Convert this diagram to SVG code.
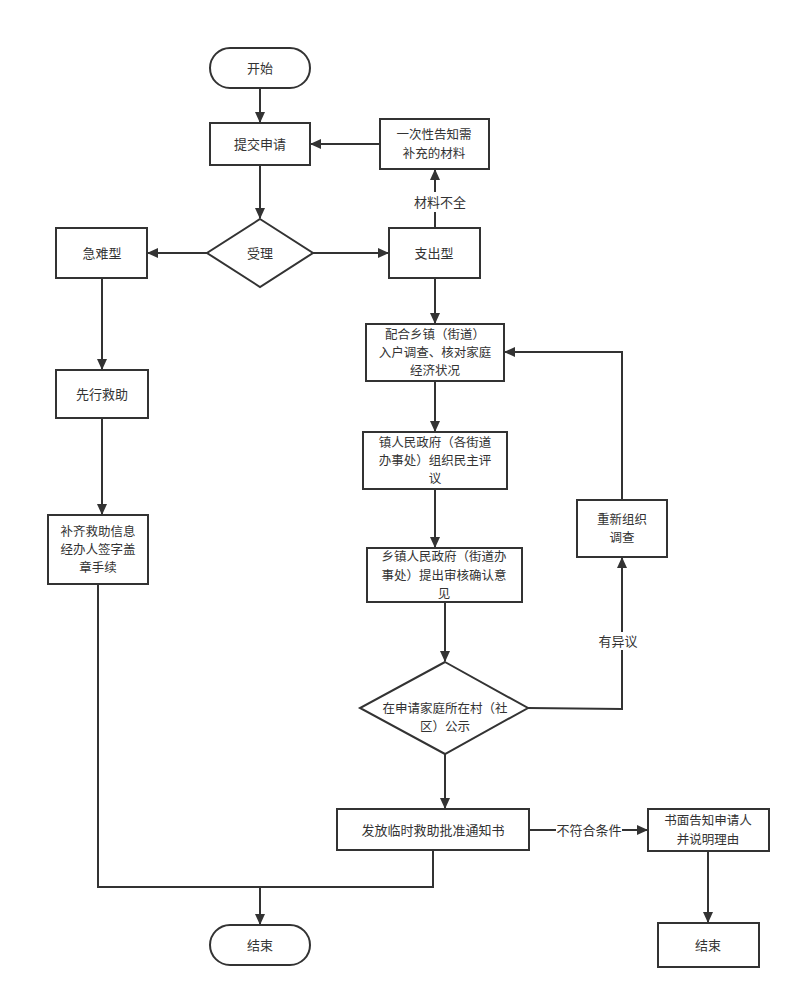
<svg xmlns="http://www.w3.org/2000/svg" width="801" height="998" viewBox="0 0 801 998">
<defs>
<marker id="arr" markerUnits="userSpaceOnUse" markerWidth="12" markerHeight="10" refX="10" refY="5" orient="auto">
<path d="M0,0 L11,5 L0,10 Z" fill="#333"/>
</marker>
<style>
.n{fill:#fff;stroke:#333;stroke-width:2}
.c{fill:none;stroke:#333;stroke-width:2}
text{font-family:"Noto Sans CJK SC","Liberation Sans",sans-serif;font-size:13px;fill:#333;text-anchor:middle}
text.m{font-size:12.5px}
.lb{fill:#fff}
</style>
</defs>
<rect width="801" height="998" fill="#fff"/>
<g id="connectors">
<path class="c" d="M260,88 V122" marker-end="url(#arr)"/>
<path class="c" d="M260,165 V218" marker-end="url(#arr)"/>
<path class="c" d="M380,144 H311" marker-end="url(#arr)"/>
<path class="c" d="M435,228 V170" marker-end="url(#arr)"/>
<path class="c" d="M207,253 H148" marker-end="url(#arr)"/>
<path class="c" d="M313,253 H388" marker-end="url(#arr)"/>
<path class="c" d="M102,278 V369" marker-end="url(#arr)"/>
<path class="c" d="M102,418 V514" marker-end="url(#arr)"/>
<path class="c" d="M435,278 V323" marker-end="url(#arr)"/>
<path class="c" d="M435,381 V431" marker-end="url(#arr)"/>
<path class="c" d="M435,489 V547" marker-end="url(#arr)"/>
<path class="c" d="M445,602 V661" marker-end="url(#arr)"/>
<path class="c" d="M528,708 L622,709 V558" marker-end="url(#arr)"/>
<path class="c" d="M622,500 V352 H505" marker-end="url(#arr)"/>
<path class="c" d="M445,754 V808" marker-end="url(#arr)"/>
<path class="c" d="M529,830 H647" marker-end="url(#arr)"/>
<path class="c" d="M708,851 V922" marker-end="url(#arr)"/>
<path class="c" d="M98,584 V887 H433 V850"/>
<path class="c" d="M260,887 V924" marker-end="url(#arr)"/>
<rect class="lb" x="410" y="192" width="50" height="20"/>
<text x="440" y="207">材料不全</text>
<rect class="lb" x="596" y="632" width="44" height="18"/>
<text x="618" y="646">有异议</text>
<rect class="lb" x="556" y="821" width="66" height="18"/>
<text x="589" y="835">不符合条件</text>
</g>
<g id="start"><rect class="n" x="210" y="48" width="100" height="40" rx="20"/><text x="260" y="73">开始</text></g>
<g id="submit"><rect class="n" x="210" y="123" width="100" height="42"/><text x="260" y="149">提交申请</text></g>
<g id="notify"><rect class="n" x="380" y="119" width="109" height="50"/><text class="m" x="434" y="139.4">一次性告知需<tspan x="434" dy="18.2">补充的材料</tspan></text></g>
<g id="accept"><polygon class="n" points="260,219 313,253 260,287 207,253"/><text x="260" y="258">受理</text></g>
<g id="urgent"><rect class="n" x="56" y="228" width="91" height="50"/><text x="102" y="258">急难型</text></g>
<g id="expense"><rect class="n" x="389" y="228" width="91" height="50"/><text x="434" y="258">支出型</text></g>
<g id="rescue"><rect class="n" x="56" y="370" width="92" height="48"/><text x="102" y="399">先行救助</text></g>
<g id="supplement"><rect class="n" x="48" y="515" width="100" height="69"/><text class="m" x="98" y="536">补齐救助信息<tspan x="98" dy="18.2">经办人签字盖</tspan><tspan x="98" dy="18.2">章手续</tspan></text></g>
<g id="survey"><rect class="n" x="366" y="324" width="138" height="57"/><text class="m" x="435" y="339">配合乡镇（街道）<tspan x="435" dy="18.2">入户调查、核对家庭</tspan><tspan x="435" dy="18.2">经济状况</tspan></text></g>
<g id="review"><rect class="n" x="363" y="432" width="144" height="57"/><text class="m" x="435" y="447">镇人民政府（各街道<tspan x="435" dy="18.2">办事处）组织民主评</tspan><tspan x="435" dy="18.2">议</tspan></text></g>
<g id="opinion"><rect class="n" x="367" y="548" width="155" height="54"/><text class="m" x="444" y="561.3">乡镇人民政府（街道办<tspan x="444" dy="18.2">事处）提出审核确认意</tspan><tspan x="444" dy="18.2">见</tspan></text></g>
<g id="publicity"><polygon class="n" points="445,662 528,708 445,754 360,708"/><text class="m" x="445" y="713">在申请家庭所在村（社<tspan x="445" dy="18.2">区）公示</tspan></text></g>
<g id="resurvey"><rect class="n" x="577" y="500" width="90" height="57"/><text class="m" x="622" y="524">重新组织<tspan x="622" dy="18.2">调查</tspan></text></g>
<g id="issue"><rect class="n" x="337" y="809" width="192" height="41"/><text x="433" y="835">发放临时救助批准通知书</text></g>
<g id="written"><rect class="n" x="648" y="809" width="121" height="42"/><text class="m" x="708" y="825.4">书面告知申请人<tspan x="708" dy="18.2">并说明理由</tspan></text></g>
<g id="end1"><rect class="n" x="210" y="925" width="100" height="40" rx="20"/><text x="260" y="950">结束</text></g>
<g id="end2"><rect class="n" x="658" y="923" width="101" height="44"/><text x="708" y="950">结束</text></g>
</svg>
